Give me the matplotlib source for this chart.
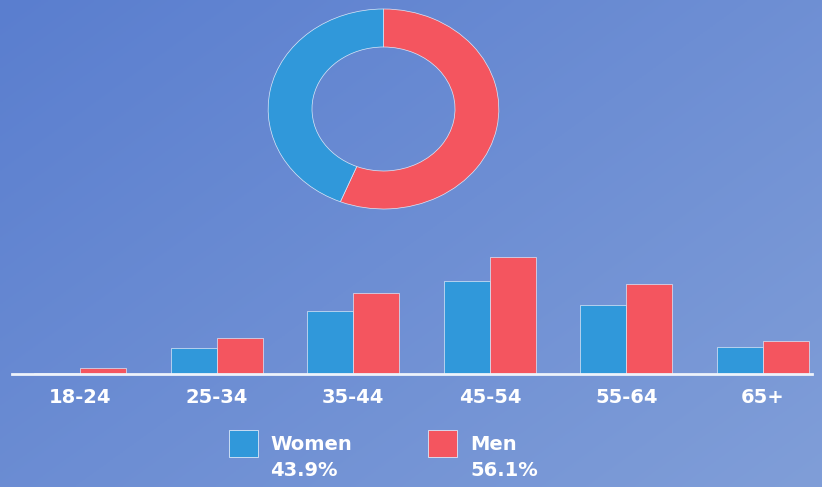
import numpy as np
import matplotlib.pyplot as plt
from matplotlib.patches import Rectangle

# data
ages = ['18-24', '25-34', '35-44', '45-54', '55-64', '65+']
women = [1, 26, 63, 93, 69, 27]
men = [6, 36, 81, 117, 90, 33]
labels = ['Women', 'Men']
share = [43.9, 56.1]

c_women = '#3098da'
c_men = '#f4555f'
edge = '#dde8f8'

W, H = 822, 487
fig = plt.figure(figsize=(W / 100, H / 100), dpi=100)

# gradient background
bg = fig.add_axes([0, 0, 1, 1])
yy, xx = np.mgrid[0:1:200j, 0:1:300j]
t = 0.55 * xx + 0.45 * yy
c0 = np.array([0x5a, 0x7e, 0xcf]) / 255
c1 = np.array([0x80, 0x9e, 0xd8]) / 255
img = c0[None, None, :] * (1 - t[..., None]) + c1[None, None, :] * t[..., None]
bg.imshow(img, extent=[0, 1, 0, 1], aspect='auto', origin='upper')
bg.set_axis_off()

# donut
ax_p = fig.add_axes([267 / W, (H - 210) / H, 233 / W, 202 / H])
ax_p.pie([share[1], share[0]], colors=[c_men, c_women], startangle=90,
         counterclock=False, radius=1,
         wedgeprops=dict(width=0.38, edgecolor=edge, linewidth=0.5))
ax_p.set_aspect('auto')
ax_p.set_xlim(-1.01, 1.01)
ax_p.set_ylim(-1.01, 1.01)
ax_p.set_axis_off()

# bars
ax = fig.add_axes([12 / W, (H - 374) / H, 800 / W, 130 / H])
x = np.arange(len(ages))
bw = 0.336
ax.bar(x - bw / 2, women, bw, color=c_women, edgecolor=edge, linewidth=0.5)
ax.bar(x + bw / 2, men, bw, color=c_men, edgecolor=edge, linewidth=0.5)
ax.set_xlim(-0.5, 5.36)
ax.set_ylim(0, 130)
ax.patch.set_visible(False)
for s in ['top', 'right', 'left']:
    ax.spines[s].set_visible(False)
ax.spines['bottom'].set_color('#eef3fb')
ax.spines['bottom'].set_linewidth(2)
ax.set_yticks([])
ax.set_xticks(x)
ax.set_xticklabels(ages, fontsize=14, fontweight='bold', color='white', family='DejaVu Sans')
ax.tick_params(axis='x', length=0, pad=10)

# legend
font = dict(fontsize=14, fontweight='bold', color='white', family='DejaVu Sans')
for sx, tx, col, lab, pct in [(229, 270, c_women, labels[0], share[0]),
                              (428, 470, c_men, labels[1], share[1])]:
    fig.patches.append(Rectangle((sx / W, (H - 457) / H), 29 / W, 27 / H,
                                 transform=fig.transFigure, facecolor=col,
                                 edgecolor=edge, linewidth=0.6))
    fig.text(tx / W, (H - 445) / H, lab, va='center', ha='left', **font)
    fig.text(tx / W, (H - 471) / H, f'{pct}%', va='center', ha='left', **font)

plt.savefig('out.png', dpi=100)
